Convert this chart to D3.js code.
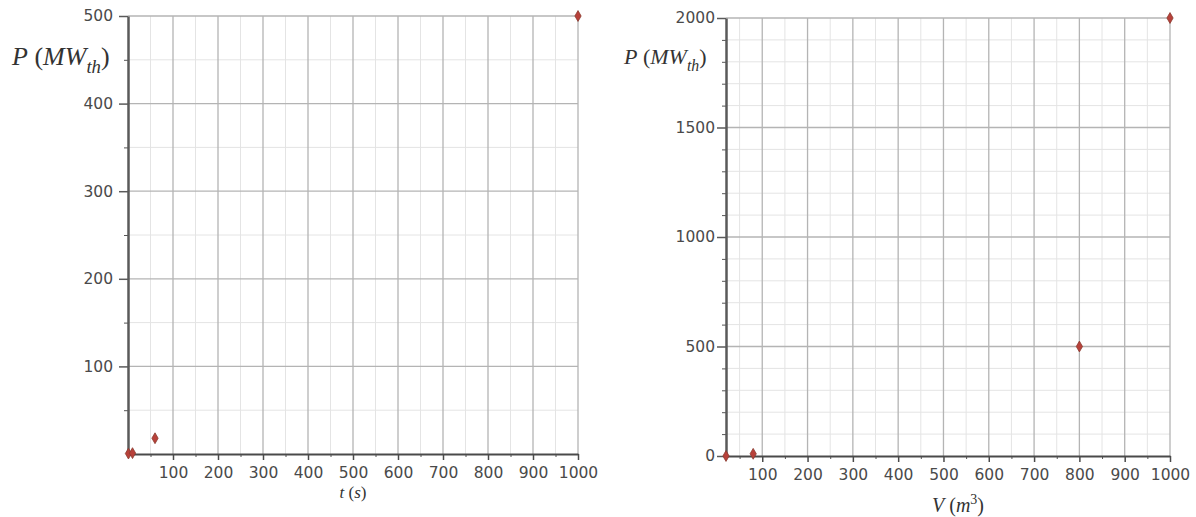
<!DOCTYPE html>
<html>
<head>
<meta charset="utf-8">
<script src="https://cdn.jsdelivr.net/npm/d3@7"></script>
<style>
  body { margin: 0; background: #fff; }
  svg { display: block; }
  .tick text { font-family: "DejaVu Sans", Verdana, sans-serif; font-size: 15.5px; fill: #4a4a4a; }
  .axlabel { font-family: "Liberation Serif", "DejaVu Serif", serif; fill: #333; }
</style>
</head>
<body>
<div id="chart"></div>
<script>
// Left panel: power vs time
var timeValues = [1, 10, 60, 1000];
var timePower = [0.5, 1, 18, 500];
var timeXTicks = [100, 200, 300, 400, 500, 600, 700, 800, 900, 1000];
var timeYTicks = [100, 200, 300, 400, 500];

// Right panel: power vs volume
var volumeValues = [20, 80, 800, 1000];
var volumePower = [0, 10, 500, 2000];
var volumeXTicks = [100, 200, 300, 400, 500, 600, 700, 800, 900, 1000];
var volumeYTicks = [0, 500, 1000, 1500, 2000];

var width = 1196;
var height = 517;

var svg = d3.select("#chart")
    .append("svg")
    .attr("width", width)
    .attr("height", height);

// minor tick helper: every step between min and max, skipping the major ones
function minorTicks(min, max, step, majors) {
    var out = [];
    for (var v = min; v <= max + 1e-9; v += step) {
        if (majors.indexOf(v) < 0 && v > 0) out.push(v);
    }
    return out;
}

function drawPanel(opt) {
    var x = d3.scaleLinear().domain(opt.xDomain).range(opt.xRange);
    var y = d3.scaleLinear().domain(opt.yDomain).range(opt.yRange);
    var g = svg.append("g");

    var xMinor = minorTicks(0, opt.xDomain[1], opt.xMinorStep, opt.xTicks).filter(function(v) { return v >= opt.xDomain[0]; });
    var yMinor = minorTicks(0, opt.yDomain[1], opt.yMinorStep, opt.yTicks);

    // minor grid
    g.selectAll(".gxm").data(xMinor).enter().append("line")
        .attr("x1", function(d) { return x(d); }).attr("x2", function(d) { return x(d); })
        .attr("y1", y.range()[0]).attr("y2", y.range()[1])
        .attr("stroke", "#e4e4e4").attr("stroke-width", 1);
    g.selectAll(".gym").data(yMinor).enter().append("line")
        .attr("x1", x.range()[0]).attr("x2", x.range()[1])
        .attr("y1", function(d) { return y(d); }).attr("y2", function(d) { return y(d); })
        .attr("stroke", "#e4e4e4").attr("stroke-width", 1);

    // major grid
    g.selectAll(".gx").data(opt.xTicks).enter().append("line")
        .attr("x1", function(d) { return x(d); }).attr("x2", function(d) { return x(d); })
        .attr("y1", y.range()[0]).attr("y2", y.range()[1])
        .attr("stroke", "#b4b4b4").attr("stroke-width", 1.3);
    g.selectAll(".gy").data(opt.yTicks.filter(function(d) { return d > 0; })).enter().append("line")
        .attr("x1", x.range()[0]).attr("x2", x.range()[1])
        .attr("y1", function(d) { return y(d); }).attr("y2", function(d) { return y(d); })
        .attr("stroke", "#b4b4b4").attr("stroke-width", 1.3);

    // minor ticks
    g.append("g")
        .attr("transform", "translate(0," + y.range()[0] + ")")
        .call(d3.axisBottom(x).tickValues(xMinor).tickSize(3).tickFormat(""))
        .call(function(a) { a.select(".domain").remove(); a.selectAll("line").attr("stroke", "#555"); });
    g.append("g")
        .attr("transform", "translate(" + x.range()[0] + ",0)")
        .call(d3.axisLeft(y).tickValues(yMinor).tickSize(4).tickFormat(""))
        .call(function(a) { a.select(".domain").remove(); a.selectAll("line").attr("stroke", "#555"); });

    // major axes
    g.append("g")
        .attr("transform", "translate(0," + y.range()[0] + ")")
        .call(d3.axisBottom(x).tickValues(opt.xTicks).tickFormat(d3.format("d"))
            .tickSize(6).tickPadding(7).tickSizeOuter(0))
        .call(function(a) {
            a.select(".domain").attr("stroke", "#4a4a4a").attr("stroke-width", 2);
            a.selectAll("line").attr("stroke", "#4a4a4a").attr("stroke-width", 1.5);
        });
    g.append("g")
        .attr("transform", "translate(" + x.range()[0] + ",0)")
        .call(d3.axisLeft(y).tickValues(opt.yTicks).tickFormat(d3.format("d"))
            .tickSize(opt.yTickSize).tickPadding(opt.yPad).tickSizeOuter(0))
        .call(function(a) {
            a.select(".domain").attr("stroke", "#5a5a5a").attr("stroke-width", 2.5);
            a.selectAll("line").attr("stroke", "#5a5a5a").attr("stroke-width", 1.5);
        });

    // points
    g.selectAll(".pt").data(opt.xs).enter().append("path")
        .attr("d", d3.symbol().type(d3.symbolDiamond).size(34))
        .attr("transform", function(d, i) { return "translate(" + x(d) + "," + y(opt.ys[i]) + ")"; })
        .attr("fill", "#b8413a")
        .attr("stroke", "#8a3b30")
        .attr("stroke-width", 0.8);

    return g;
}

var left = drawPanel({
    xs: timeValues, ys: timePower,
    xDomain: [0, 1000], xRange: [128, 578],
    yDomain: [0, 500], yRange: [454, 16],
    xTicks: timeXTicks, yTicks: timeYTicks,
    xMinorStep: 50, yMinorStep: 50,
    yTickSize: 9, yPad: 6
});

var right = drawPanel({
    xs: volumeValues, ys: volumePower,
    xDomain: [20, 1000], xRange: [726, 1170],
    yDomain: [0, 2000], yRange: [456, 18],
    xTicks: volumeXTicks, yTicks: volumeYTicks,
    xMinorStep: 50, yMinorStep: 100,
    yTickSize: 9, yPad: 2
});

// axis titles
function powerLabel(x0, y0, size) {
    var t = svg.append("text").attr("class", "axlabel")
        .attr("x", x0).attr("y", y0).style("font-size", size + "px");
    t.append("tspan").attr("font-style", "italic").text("P");
    t.append("tspan").text(" (");
    t.append("tspan").attr("font-style", "italic").text("MW");
    t.append("tspan").attr("font-style", "italic").attr("dy", size * 0.3)
        .style("font-size", (size * 0.72) + "px").text("th");
    t.append("tspan").attr("dy", -size * 0.3).text(")");
}
powerLabel(12, 65, 26);
powerLabel(624, 64, 22);

var tl = svg.append("text").attr("class", "axlabel")
    .attr("x", 353).attr("y", 498).attr("text-anchor", "middle").style("font-size", "17px");
tl.append("tspan").attr("font-style", "italic").text("t");
tl.append("tspan").text(" (");
tl.append("tspan").attr("font-style", "italic").text("s");
tl.append("tspan").text(")");

var vl = svg.append("text").attr("class", "axlabel")
    .attr("x", 958).attr("y", 512).attr("text-anchor", "middle").style("font-size", "20px");
vl.append("tspan").attr("font-style", "italic").text("V");
vl.append("tspan").text(" (");
vl.append("tspan").attr("font-style", "italic").text("m");
vl.append("tspan").attr("dy", -8).style("font-size", "14px").text("3");
vl.append("tspan").attr("dy", 8).text(")");
</script>
</body>
</html>
